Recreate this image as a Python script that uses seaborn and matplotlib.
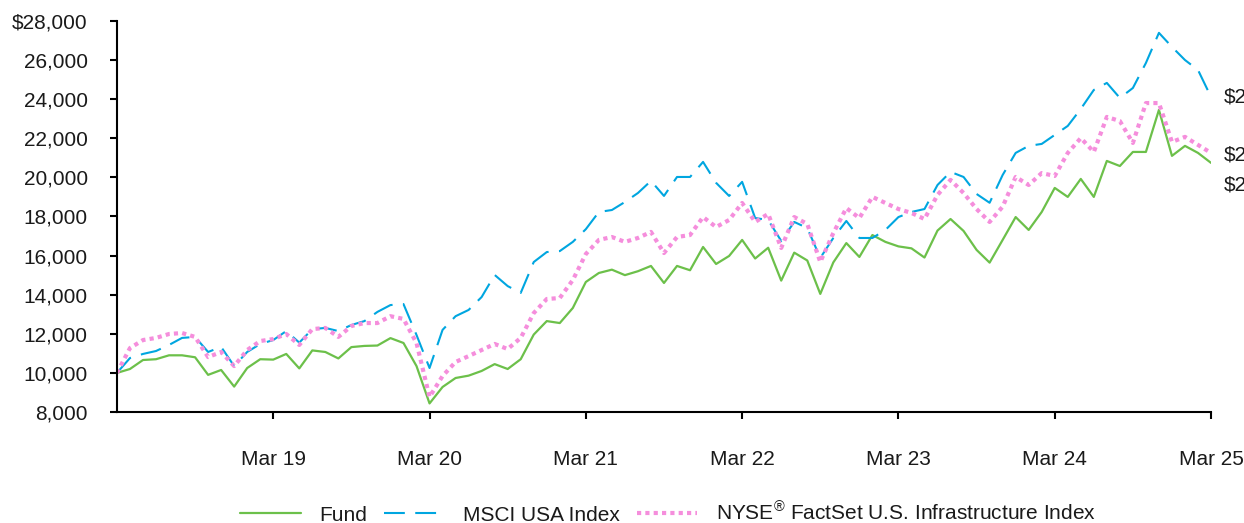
import numpy as np
import pandas as pd
import matplotlib
matplotlib.use("Agg")
import matplotlib.pyplot as plt
import seaborn as sns
from matplotlib.ticker import FuncFormatter

# Growth of $10,000, monthly Mar 18 - Mar 25
fund = [10000, 10200, 10660, 10700, 10900, 10900, 10800, 9900, 10150, 9300,
        10250, 10700, 10680, 10970, 10230, 11150, 11070, 10740, 11320, 11380,
        11400, 11780, 11530, 10350, 8440, 9280, 9740, 9860, 10100, 10450,
        10200, 10700, 11960, 12650, 12550, 13320, 14650, 15110, 15280, 15000,
        15200, 15470, 14600, 15470, 15250, 16440, 15570, 15980, 16800, 15850,
        16400, 14720, 16150, 15750, 14040, 15650, 16640, 15930, 17050, 16700,
        16470, 16370, 15900, 17280, 17870, 17260, 16290, 15640, 16800, 17970,
        17310, 18230, 19460, 19000, 19920, 19000, 20840, 20580, 21300, 21300,
        23450, 21100, 21610, 21250, 20740]
msci = [10000, 10760, 10970, 11120, 11430, 11790, 11840, 11070, 11330, 10350,
        11070, 11480, 11680, 12140, 11550, 12240, 12300, 12140, 12450, 12650,
        13120, 13470, 13520, 11940, 10250, 12200, 12900, 13220, 13880, 15010,
        14440, 14090, 15670, 16180, 16230, 16700, 17350, 18230, 18330, 18740,
        19200, 19820, 19050, 20020, 20020, 20790, 19720, 19050, 19770, 17920,
        17820, 16750, 17720, 17410, 15880, 16900, 17770, 16900, 16900, 17310,
        17970, 18230, 18380, 19610, 20280, 20020, 19150, 18700, 20120, 21250,
        21610, 21710, 22170, 22630, 23500, 24470, 24830, 24060, 24570, 25850,
        27390, 26670, 26000, 25490, 24110]
nyse = [10000, 11270, 11680, 11790, 11990, 12040, 11840, 10810, 11070, 10350,
        11170, 11630, 11730, 11990, 11430, 12240, 12300, 11840, 12400, 12550,
        12550, 12900, 12760, 11530, 8770, 9840, 10560, 10860, 11170, 11480,
        11220, 11790, 13060, 13780, 13830, 14750, 16080, 16800, 16950, 16700,
        16900, 17210, 16130, 16950, 17050, 17970, 17460, 17820, 18690, 17720,
        18130, 16390, 17970, 17620, 15670, 17150, 18430, 17920, 19000, 18690,
        18380, 18180, 17870, 19100, 19870, 19200, 18380, 17720, 18500, 20020,
        19610, 20220, 20070, 21250, 22010, 21300, 23090, 22880, 21760, 23800,
        23800, 21810, 22070, 21660, 21250]
months = np.arange(len(fund))
tick_pos = [12, 24, 36, 48, 60, 72, 84]
tick_labels = ["Mar 19", "Mar 20", "Mar 21", "Mar 22", "Mar 23", "Mar 24", "Mar 25"]
names = ["Fund", "MSCI USA Index", "NYSE$^{\\mathrm{®}}$ FactSet U.S. Infrastructure Index"]

sns.set_style("ticks")
plt.rcParams["font.family"] = ["Liberation Sans", "DejaVu Sans"]
plt.rcParams["mathtext.fontset"] = "custom"
plt.rcParams["mathtext.rm"] = "Liberation Sans"
plt.rcParams["mathtext.it"] = "Liberation Sans"

green, blue, pink = "#6CC04A", "#00A6E0", "#F58EDC"
txt = "#1a1a1a"

fig, ax = plt.subplots(figsize=(12.44, 5.23), dpi=100)
fig.subplots_adjust(left=0.094, right=0.9735, top=0.96, bottom=0.2122)

sns.lineplot(x=months, y=fund, ax=ax, color=green, linewidth=1.6, label=names[0])
sns.lineplot(x=months, y=msci, ax=ax, color=blue, linewidth=1.5,
             linestyle=(0, (10, 5)), label=names[1])
sns.lineplot(x=months, y=nyse, ax=ax, color=pink, linewidth=3,
             linestyle=(0, (1, 1)), label=names[2])

ax.set_xlim(0, 84)
ax.set_ylim(8000, 28000)
ax.set_yticks(range(8000, 28001, 2000))
ax.yaxis.set_major_formatter(FuncFormatter(
    lambda v, p: f"${v:,.0f}" if v == 28000 else f"{v:,.0f}"))
ax.set_xticks(tick_pos)
ax.set_xticklabels(tick_labels)
ax.tick_params(axis="both", length=5, width=1.5, labelsize=15, colors="black",
               labelcolor=txt)
ax.tick_params(axis="y", pad=16)
ax.tick_params(axis="x", pad=22)
for s in ["left", "bottom"]:
    ax.spines[s].set_linewidth(1.5)
    ax.spines[s].set_color("black")
sns.despine(ax=ax)
ax.set_xlabel("")
ax.set_ylabel("")

# end-of-period value labels (cut off at the right edge like the original)
offsets = [(9, -16), (9, 0), (9, -1.5)]
for series, off in zip([fund, msci, nyse], offsets):
    ax.annotate(f"${series[-1]:,.0f}", xy=(months[-1], series[-1]), xytext=off,
                textcoords="offset points", va="center", ha="left",
                fontsize=15, color=txt, annotation_clip=False)

handles, labels = ax.get_legend_handles_labels()
ax.get_legend().remove()
fig.legend(handles, labels, loc="center", bbox_to_anchor=(0.537, 0.019), ncol=3,
           frameon=False, fontsize=15, handlelength=2.9, handletextpad=0.9,
           columnspacing=0.8, labelcolor=txt)

fig.savefig("out.png", dpi=100)
